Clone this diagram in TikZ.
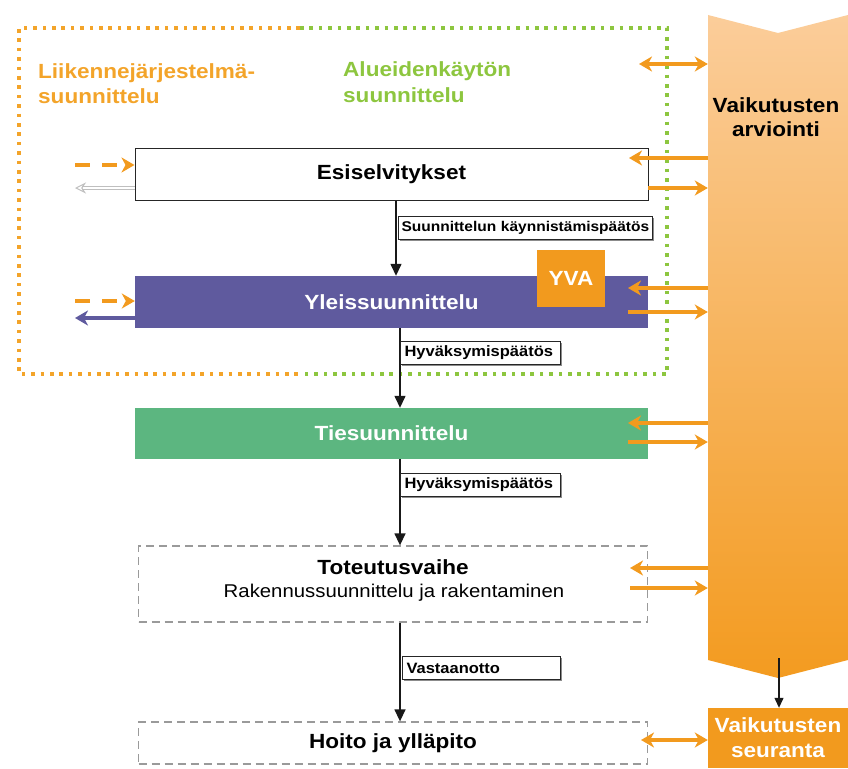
\documentclass[tikz,border=0pt]{standalone}
\usepackage{fontspec}
\setmainfont{Liberation Sans}[FakeStretch=1.1]
\usetikzlibrary{arrows.meta,shadows}
\definecolor{orA}{HTML}{F29A1E}
\definecolor{orT}{HTML}{F3A42A}
\definecolor{grT}{HTML}{8DC63F}
\definecolor{purp}{HTML}{5F5A9E}
\definecolor{grB}{HTML}{5CB680}
\definecolor{bandTop}{HTML}{FBCD9A}
\definecolor{bandBot}{HTML}{F39B20}
\definecolor{dashg}{HTML}{9A9A9A}
\begin{document}
\begin{tikzpicture}[x=1pt,y=-1pt,
  big/.style={font=\fontsize{20.5}{24}\selectfont\bfseries},
  phase/.style={big, minimum width=513pt, minimum height=52pt, inner sep=0pt},
  dphase/.style={draw=dashg, line width=1.3pt, dash pattern=on 8pt off 5pt, minimum width=509pt, inner sep=0pt},
  lab/.style={draw=black!85, line width=1pt, fill=white, anchor=west, align=left,
    font=\fontsize{15}{17}\selectfont\bfseries, inner xsep=4pt, inner ysep=0pt,
    minimum height=23pt, drop shadow={shadow xshift=1.5pt, shadow yshift=-1.5pt, fill=black!45, opacity=1}},
  otip/.tip={Stealth[length=13pt,width=15pt,inset=4pt]},
  oarr/.style={draw=orA, line width=4.2pt, -otip},
  oarr2/.style={draw=orA, line width=4.2pt, otip-otip},
  odash/.style={draw=orA, line width=4.2pt, dash pattern=on 15pt off 12pt, -otip},
  barr/.style={draw=black!90, line width=1.4pt, -{Triangle[length=12pt,width=11pt]}},
  dotbox/.style={line width=4.2pt, dash pattern=on 3.6pt off 5.8pt}
]
\useasboundingbox (0,0) rectangle (848,768);

% impact assessment band
\shade[top color=bandTop, bottom color=bandBot] (708,15) -- (778,33) -- (848,15) -- (848,660) -- (778,678) -- (708,660) -- cycle;
\node[minimum width=140pt, minimum height=645pt, inner sep=0pt] (band) at (778,337.5) {};
\node[big, anchor=base] (arv1) at (776,112) {Vaikutusten};
\node[big, anchor=base] (arv2) at (776,136) {arviointi};

% dotted frame
\draw[dotbox, orT] (300,28) -- (19,28) -- (19,374) -- (300,374);
\draw[dotbox, grT] (300,28) -- (667,28) -- (667,374) -- (300,374);
\node[big, text=orT, anchor=base west, inner sep=0pt] (liik1) at (38,78) {Liikennejärjestelmä-};
\node[big, text=orT, anchor=base west, inner sep=0pt] (liik2) at (38,103) {suunnittelu};
\node[big, text=grT, anchor=base west, inner sep=0pt] (alue1) at (343,77) {Alueidenkäytön};
\node[big, text=grT, anchor=base west, inner sep=0pt] (alue2) at (343,102) {suunnittelu};

% phases
\node[phase, draw=black!85, line width=1pt, fill=white] (esi) at (391.5,174) {Esiselvitykset};
\node[phase, fill=purp, text=white] (yle) at (391.5,302) {Yleissuunnittelu};
\node[phase, fill=grB, text=white, minimum height=51pt] (tie) at (391.5,433.5) {Tiesuunnittelu};
\node[big, fill=orA, text=white, minimum width=68pt, minimum height=57pt, inner sep=0pt] (yva) at (571,278.5) {YVA};
\node[dphase, minimum height=76pt] (tot) at (393,584) {};
\node[big, anchor=base] (totA) at (393,574) {Toteutusvaihe};
\node[font=\fontsize{18.5}{22}\selectfont, anchor=base] (totB) at (394,597) {Rakennussuunnittelu ja rakentaminen};
\node[dphase, minimum height=42pt, big] (hoi) at (393,743) {Hoito ja ylläpito};
\node[big, fill=orA, text=white, minimum width=140pt, minimum height=60pt, inner sep=0pt] (seur) at (778,738) {};
\node[big, text=white, anchor=base] (seur1) at (778,732) {Vaikutusten};
\node[big, text=white, anchor=base] (seur2) at (778,757) {seuranta};

% decision arrows
\draw[barr] (esi.south -| 396,0) -- (yle.north -| 396,0);
\draw[barr] (yle.south -| 400,0) -- (tie.north -| 400,0);
\draw[barr] (tie.south -| 400,0) -- (tot.north -| 400,0);
\draw[barr] (tot.south -| 400,0) -- (hoi.north -| 400,0);
\node[lab, text width=248pt, inner xsep=3pt, font=\fontsize{14.1}{16}\selectfont\bfseries] (lab1) at (398,228) {Suunnittelun käynnistämispäätös};
\node[lab, text width=152pt] (lab2) at (400,353) {Hyväksymispäätös};
\node[lab, text width=152pt] (lab3) at (400,485) {Hyväksymispäätös};
\node[lab, text width=150pt] (lab4) at (402,668) {Vastaanotto};

% left side arrows
\coordinate (l1) at (75,165);
\coordinate (l2) at (75,188);
\coordinate (l3) at (75,301);
\coordinate (l4) at (75,318);
\draw[odash] (l1) -- (esi.west |- l1);
\draw[draw=black!25, line width=1pt, double=white, double distance=2.2pt, -{Stealth[open,length=11pt,width=11pt]}] (esi.west |- l2) -- (l2);
\draw[odash] (l3) -- (yle.west |- l3);
\draw[draw=purp, line width=4.2pt, -otip] (yle.west |- l4) -- (l4);

% right side arrows
\coordinate (t0) at (639,64);
\draw[oarr2] (t0) -- (band.west |- t0);
\coordinate (e1) at (629,158);
\coordinate (e2) at (648,188);
\draw[oarr] (band.west |- e1) -- (e1);
\draw[oarr] (e2) -- (band.west |- e2);
\coordinate (y1) at (628,288);
\coordinate (y2) at (628,312);
\draw[oarr] (band.west |- y1) -- (y1);
\draw[oarr] (y2) -- (band.west |- y2);
\coordinate (g1) at (628,423);
\coordinate (g2) at (628,442);
\draw[oarr] (band.west |- g1) -- (g1);
\draw[oarr] (g2) -- (band.west |- g2);
\coordinate (r1) at (630,568);
\coordinate (r2) at (630,588);
\draw[oarr] (band.west |- r1) -- (r1);
\draw[oarr] (r2) -- (band.west |- r2);
\coordinate (h1) at (641,740);
\draw[oarr2] (h1) -- (seur.west |- h1);

% band to follow-up
\coordinate (btip) at (779,658);
\draw[barr, line width=1.2pt, -{Triangle[length=10pt,width=9pt]}] (btip) -- (seur.north -| btip);
\end{tikzpicture}
\end{document}
